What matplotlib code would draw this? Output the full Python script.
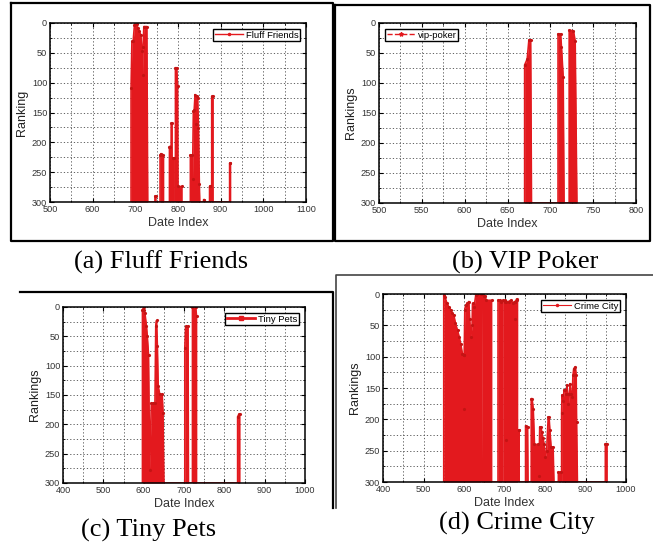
import numpy as np
import matplotlib
matplotlib.use("Agg")
import matplotlib.pyplot as plt
from matplotlib.lines import Line2D
from matplotlib.ticker import MultipleLocator

# rank 300 = not in the chart that day (bottom of the plot)
dates_ff = [690, 690, 692, 695, 698, 703, 706, 709, 713, 715, 717, 718, 720, 727, 729,
            746, 746, 748, 748,
            758, 758, 760, 766, 766,
            780, 780, 782, 782, 784, 784, 786, 786, 788, 788, 790, 790,
            794, 794, 797, 799, 800,
            801, 801, 809, 809,
            829, 829, 832, 834, 836, 838, 840, 842, 844, 846, 848, 850, 851,
            860, 860, 862, 862,
            874, 874, 876, 876,
            879, 879, 882, 882,
            921, 921, 923, 923]
ranks_ff = [300, 109, 31, 30, 3, 2, 8, 14, 20, 47, 87, 40, 6, 6, 300,
            300, 290, 290, 300,
            300, 221, 219, 221, 300,
            300, 207, 207, 300, 300, 168, 168, 300, 300, 226, 226, 300,
            300, 75, 75, 105, 300,
            300, 274, 274, 300,
            300, 221, 221, 262, 148, 145, 120, 170, 123, 125, 176, 270, 300,
            300, 296, 296, 300,
            300, 274, 274, 300,
            300, 123, 123, 300,
            300, 235, 235, 300]

dates_vp = [670, 670, 673, 675, 677, 678,
            709, 709, 712, 713, 715, 716,
            722, 722, 727, 729, 731]
ranks_vp = [300, 70, 60, 28, 28, 300,
            300, 18, 18, 40, 90, 300,
            300, 12, 13, 30, 300]

dates_tp = [597, 597, 600, 601, 603, 607, 609, 612, 615, 619, 623, 628, 630, 632, 634, 636,
            640, 646, 648, 650,
            702, 702, 704, 710, 711,
            721, 721, 729, 731, 731,
            833, 833, 836, 838, 838]
ranks_tp = [300, 5, 0, 5, 10, 33, 50, 81, 277, 164, 164, 164, 33, 23, 67, 135,
            149, 149, 180, 300,
            300, 70, 33, 33, 300,
            300, 0, 0, 15, 300,
            300, 187, 183, 183, 300]

dates_cc = [550, 550, 553, 558, 562, 567, 571, 575, 579, 584, 588, 592, 596, 599, 600, 600.5,
            602, 604, 608, 612, 614, 617, 620, 621, 625, 629, 633, 641, 641.5, 643, 645,
            650, 653, 654, 668, 668,
            684, 684, 690, 692, 693,
            696, 696, 700, 702, 703, 704, 710, 715, 720, 725, 726, 727, 730, 732, 732,
            735, 735, 736, 736,
            752, 752, 757, 758,
            766, 766, 768, 771, 774, 783, 785, 787, 790, 792, 795, 798, 801, 804, 808, 810,
            812, 815, 820, 822,
            833, 833, 839, 839,
            841, 841, 842, 845, 847, 850, 852, 854, 856, 858, 860, 862, 864, 867, 869, 871,
            875, 877, 878, 880,
            949, 949, 953, 953]
ranks_cc = [300, 2, 5, 15, 20, 25, 31, 34, 47, 58, 68, 80, 95, 97, 183, 97,
            25, 18, 15, 12, 40, 68, 50, 15, 20, 2, 0, 0, 300, 300, 0,
            3, 3, 10, 10, 300,
            300, 10, 10, 12, 300,
            300, 10, 12, 10, 233, 12, 12, 10, 14, 12, 40, 12, 8, 10, 300,
            300, 217, 217, 300,
            300, 210, 212, 300,
            300, 167, 167, 183, 240, 240, 290, 212, 212, 220, 230, 240, 260, 250, 196, 196,
            217, 244, 244, 300,
            300, 284, 284, 300,
            300, 190, 161, 170, 153, 153, 160, 145, 160, 175, 160, 143, 160, 164, 130, 119,
            116, 130, 205, 300,
            300, 239, 239, 300]

red = "#e3191e"
W, H = 653, 546

fig = plt.figure(figsize=(W / 100, H / 100), dpi=100)
plt.rcParams['font.family'] = ['Liberation Sans', 'DejaVu Sans']


def px_axes(x0, y0, x1, y1):
    return fig.add_axes([x0 / W, 1 - y1 / H, (x1 - x0) / W, (y1 - y0) / H])


def draw_panel(ax, dates, ranks, xlim, xmajor, xminor, ylabel, label, ls, mk, lw, loc):
    d = np.array(dates, dtype=float)
    r = np.array(ranks, dtype=float)
    ax.fill_between(d, r, 300, color=red, lw=0)
    ax.plot(d, r, color=red, lw=1.2)
    on = r < 300
    ax.plot(d[on], r[on], ls="none", marker=".", ms=2.5, color="#c41414")
    ax.set_xlim(*xlim)
    ax.set_ylim(300, 0)
    ax.xaxis.set_major_locator(MultipleLocator(xmajor))
    ax.xaxis.set_minor_locator(MultipleLocator(xminor))
    ax.yaxis.set_major_locator(MultipleLocator(50))
    ax.yaxis.set_minor_locator(MultipleLocator(25))
    ax.grid(True, which="both", color="#4a4a4a", lw=0.6, ls=(0, (1.5, 2.5)))
    ax.set_axisbelow(True)
    ax.tick_params(which="both", direction="in", top=True, right=True,
                   labelsize=6.6, labelcolor="#333333", pad=2)
    ax.tick_params(which="major", length=3)
    ax.tick_params(which="minor", length=1.5)
    for s in ax.spines.values():
        s.set_linewidth(1.1)
    ax.set_xlabel("Date Index", fontsize=9, color="#333333", labelpad=2)
    ax.set_ylabel(ylabel, fontsize=9, color="#222222", labelpad=3)
    h = Line2D([], [], color=red, ls=ls, lw=lw, marker=mk, ms=3)
    leg = ax.legend([h], [label], loc=loc, fontsize=6.8, fancybox=False,
                    edgecolor="black", framealpha=1, handlelength=3,
                    borderpad=0.2, borderaxespad=0.6, handletextpad=0.3)
    leg.get_frame().set_linewidth(1.0)


ax1 = px_axes(50, 23, 306, 202)
draw_panel(ax1, dates_ff, ranks_ff, (500, 1100), 100, 50, "Ranking",
           "Fluff Friends", "-", ".", 1.0, "upper right")

ax2 = px_axes(379, 23, 636, 203)
draw_panel(ax2, dates_vp, ranks_vp, (500, 800), 50, 25, "Rankings",
           "vip-poker", "--", "*", 1.0, "upper left")

ax3 = px_axes(63, 307, 305, 483)
draw_panel(ax3, dates_tp, ranks_tp, (400, 1000), 100, 50, "Rankings",
           "Tiny Pets", "-", "s", 2.0, "upper right")

ax4 = px_axes(383, 294, 626, 482)
draw_panel(ax4, dates_cc, ranks_cc, (400, 1000), 100, 50, "Rankings",
           "Crime City", "-", ".", 0.8, "upper right")


# frames around the sub-figures
def fline(xs, ys, lw=1.6, color="black"):
    fig.add_artist(Line2D([x / W for x in xs], [1 - y / H for y in ys],
                          lw=lw, color=color, transform=fig.transFigure))


fline([11, 333, 333, 11, 11], [3, 3, 241, 241, 3])
fline([335, 650, 650, 335, 335], [5, 5, 241, 241, 5])
fline([20, 333, 333], [292, 292, 508])
fline([653, 336, 336], [275, 275, 508], lw=1.2, color="#444444")

# captions
cap = dict(fontsize=19, family=["Liberation Serif", "DejaVu Serif"], ha="center", va="center")
fig.text(161 / W, 1 - 262 / H, "(a) Fluff Friends", **cap)
fig.text(525 / W, 1 - 262 / H, "(b) VIP Poker", **cap)
fig.text(149 / W, 1 - 530 / H, "(c) Tiny Pets", **cap)
fig.text(517 / W, 1 - 523 / H, "(d) Crime City", **cap)

fig.savefig("out.png", dpi=100)
